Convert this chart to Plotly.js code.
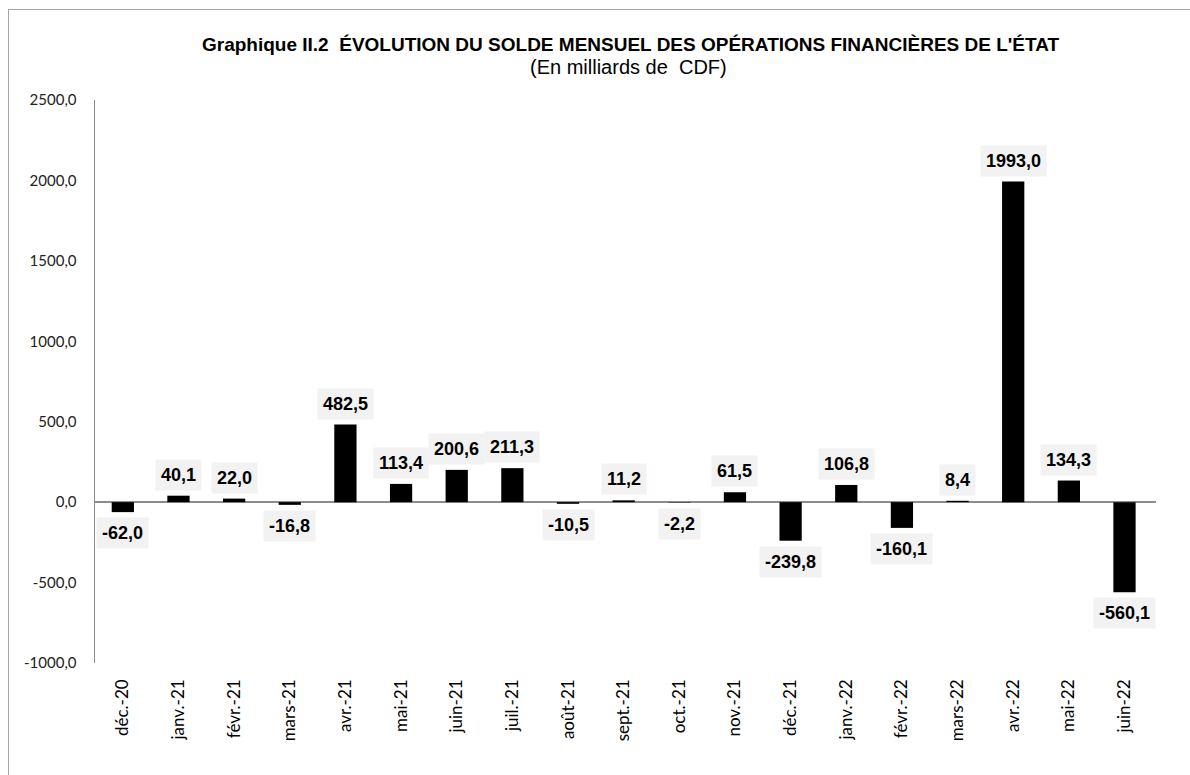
<!DOCTYPE html>
<html>
<head>
<meta charset="utf-8">
<script src="https://cdn.plot.ly/plotly-3.0.1.min.js"></script>
<style>
  html, body { margin: 0; padding: 0; background: #fff; }
  #frame { position: absolute; left: 8px; top: 9px; width: 1200px; height: 800px; border: 1.5px solid #a6a6a6; box-sizing: border-box; }
  #chart { position: absolute; left: 0; top: 0; width: 1190px; height: 775px; }
</style>
</head>
<body>
<div id="frame"></div>
<div id="chart"></div>
<script>
const months = ["déc.-20","janv.-21","févr.-21","mars-21","avr.-21","mai-21","juin-21","juil.-21","août-21","sept.-21","oct.-21","nov.-21","déc.-21","janv.-22","févr.-22","mars-22","avr.-22","mai-22","juin-22"];
const solde = [-62.0, 40.1, 22.0, -16.8, 482.5, 113.4, 200.6, 211.3, -10.5, 11.2, -2.2, 61.5, -239.8, 106.8, -160.1, 8.4, 1993.0, 134.3, -560.1];
const yTicks = [-1000, -500, 0, 500, 1000, 1500, 2000, 2500];

const fmt = v => v.toFixed(1).replace('.', ',');

const annotations = months.map((m, i) => {
  const v = solde[i];
  const pos = v >= 0;
  return {
    x: m, y: v, xref: 'x', yref: 'y',
    text: '<b>' + fmt(v) + '</b>',
    showarrow: false,
    yanchor: pos ? 'bottom' : 'top',
    yshift: pos ? 5 : -5,
    bgcolor: '#f2f2f2',
    borderpad: 5,
    font: { family: 'Liberation Sans, Arial, sans-serif', size: 18, color: '#000' }
  };
});

annotations.push({
  xref: 'paper', yref: 'paper', x: 0.505, y: 1, yshift: 43, xanchor: 'center', yanchor: 'bottom',
  showarrow: false,
  text: '<b>Graphique II.2  ÉVOLUTION DU SOLDE MENSUEL DES OPÉRATIONS FINANCIÈRES DE L\'ÉTAT</b>',
  font: { family: 'Liberation Sans Narrow, Liberation Sans, Arial, sans-serif', size: 19, color: '#000' }
});
annotations.push({
  xref: 'paper', yref: 'paper', x: 0.503, y: 1, yshift: 20, xanchor: 'center', yanchor: 'bottom',
  showarrow: false,
  text: '(En milliards de  CDF)',
  font: { family: 'Liberation Sans Narrow, Liberation Sans, Arial, sans-serif', size: 20, color: '#000' }
});

const trace = {
  type: 'bar', x: months, y: solde,
  marker: { color: '#000' },
  hoverinfo: 'skip'
};

const layout = {
  width: 1190, height: 775,
  margin: { l: 95, r: 34, t: 100, b: 112 },
  paper_bgcolor: 'rgba(0,0,0,0)', plot_bgcolor: 'rgba(0,0,0,0)',
  bargap: 0.6,
  showlegend: false,
  xaxis: {
    type: 'category', tickangle: -90, showgrid: false, zeroline: false, showline: false, ticks: '',
    ticklabelstandoff: 12,
    tickfont: { family: 'Lato, Open Sans, sans-serif', size: 17, color: '#000' }
  },
  yaxis: {
    range: [-1000, 2500], tickvals: yTicks, ticktext: yTicks.map(fmt),
    showgrid: false, zeroline: true, zerolinecolor: '#8c8c8c', zerolinewidth: 1.5,
    showline: true, linecolor: '#8c8c8c', linewidth: 1.5, ticks: '',
    ticklabelstandoff: 14,
    tickfont: { family: 'Lato, Open Sans, sans-serif', size: 15, color: '#222' }
  },
  annotations: annotations
};

Plotly.newPlot('chart', [trace], layout, { displayModeBar: false, staticPlot: true });
</script>
</body>
</html>
